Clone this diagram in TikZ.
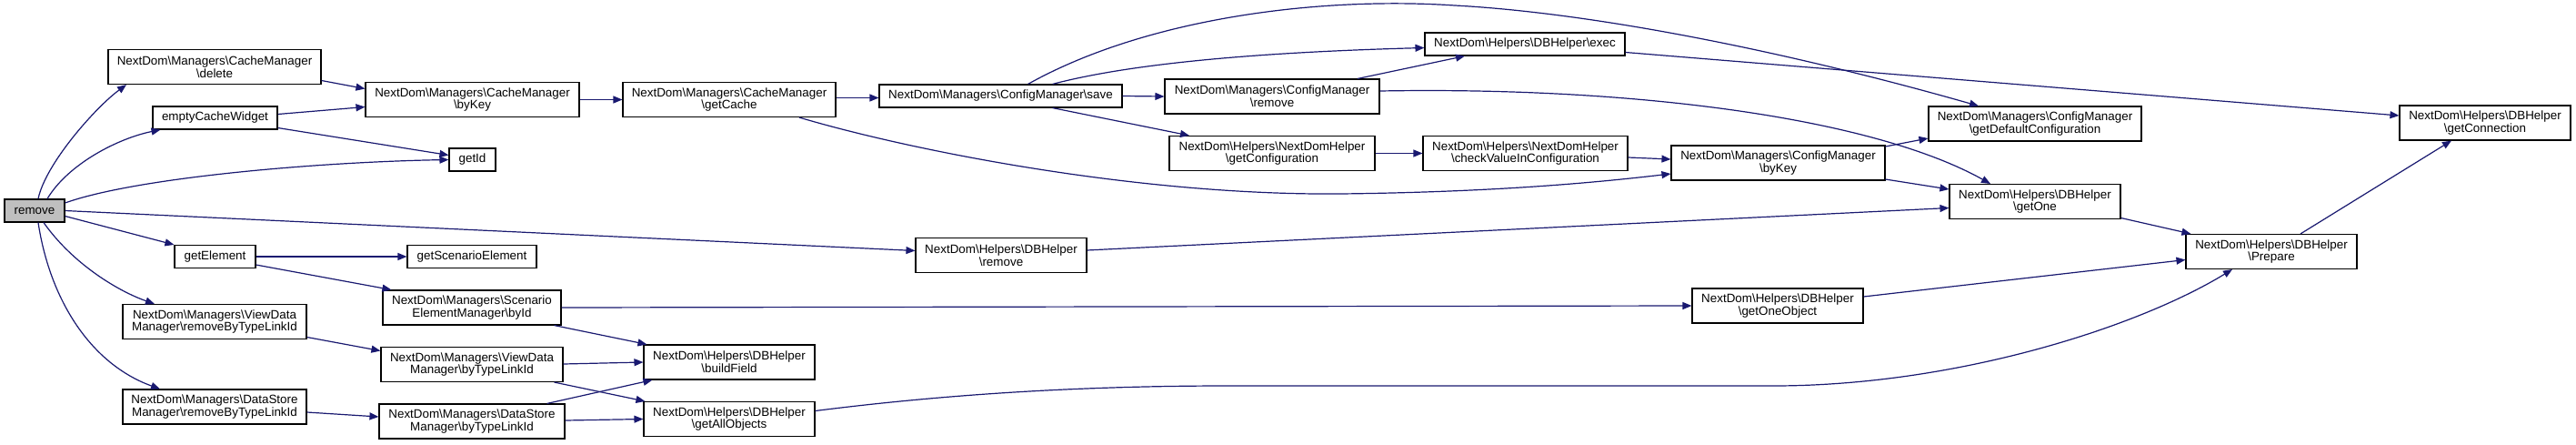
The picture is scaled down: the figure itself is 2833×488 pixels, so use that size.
\documentclass[tikz,border=0pt]{standalone}
\usepackage{fontspec}
\setmainfont{Liberation Sans}
\usetikzlibrary{arrows.meta}
\newcommand{\BkS}{\textbackslash}
\definecolor{edgecol}{HTML}{191970}
\definecolor{rootfill}{HTML}{BFBFBF}
\tikzset{
  box/.style={draw=black, line width=1.1pt, fill=white, inner sep=0pt, align=center,
    font=\fontsize{13.4pt}{13.6pt}\selectfont},
  one/.style={box, minimum height=25pt},
  two/.style={box, minimum height=38pt},
  edge/.style={draw=edgecol, line width=1.2pt, -{Triangle[length=10pt,width=8pt]}},
}
\begin{document}
\begin{tikzpicture}[x=1pt,y=-1pt]
\fill[white] (0,0) rectangle (2833,488);
\useasboundingbox (0,0) rectangle (2833,488);
% nodes
\node[one, fill=rootfill, minimum width=66pt] (remove) at (38,231.5) {remove};
\node[two, minimum width=234pt] (delete) at (236,73.5) {NextDom\BkS Managers\BkS CacheManager\\\BkS delete};
\node[two, minimum width=235pt] (cbyKey) at (519.5,109.5) {NextDom\BkS Managers\BkS CacheManager\\\BkS byKey};
\node[two, minimum width=234pt] (getCache) at (802,109.5) {NextDom\BkS Managers\BkS CacheManager\\\BkS getCache};
\node[one, minimum width=137pt] (ecw) at (236.5,129.5) {emptyCacheWidget};
\node[one, minimum width=51pt] (getId) at (519.5,175.5) {getId};
\node[one, minimum width=89pt] (getElement) at (236.5,282) {getElement};
\node[one, minimum width=142pt] (getScen) at (519,282) {getScenarioElement};
\node[two, minimum width=196pt] (sebyId) at (519,338) {NextDom\BkS Managers\BkS Scenario\\ElementManager\BkS byId};
\node[two, minimum width=202pt] (vdrm) at (236,353.5) {NextDom\BkS Managers\BkS ViewData\\Manager\BkS removeByTypeLinkId};
\node[two, minimum width=200pt] (vdby) at (519,400.5) {NextDom\BkS Managers\BkS ViewData\\Manager\BkS byTypeLinkId};
\node[two, minimum width=188pt] (buildField) at (802,398) {NextDom\BkS Helpers\BkS DBHelper\\\BkS buildField};
\node[two, minimum width=202pt] (dsrm) at (236,447) {NextDom\BkS Managers\BkS DataStore\\Manager\BkS removeByTypeLinkId};
\node[two, minimum width=204pt] (dsby) at (519,463) {NextDom\BkS Managers\BkS DataStore\\Manager\BkS byTypeLinkId};
\node[two, minimum width=188pt] (getAll) at (802,460.5) {NextDom\BkS Helpers\BkS DBHelper\\\BkS getAllObjects};
\node[one, minimum width=267pt] (save) at (1100.5,105.5) {NextDom\BkS Managers\BkS ConfigManager\BkS save};
\node[two, minimum width=236pt] (cmremove) at (1399,106) {NextDom\BkS Managers\BkS ConfigManager\\\BkS remove};
\node[one, minimum width=220pt] (exec) at (1677,48.5) {NextDom\BkS Helpers\BkS DBHelper\BkS exec};
\node[two, minimum width=226pt] (getConf) at (1399,168.5) {NextDom\BkS Helpers\BkS NextDomHelper\\\BkS getConfiguration};
\node[two, minimum width=225pt] (checkVal) at (1677.5,168.5) {NextDom\BkS Helpers\BkS NextDomHelper\\\BkS checkValueInConfiguration};
\node[two, minimum width=235pt] (cmbyKey) at (1955.5,179) {NextDom\BkS Managers\BkS ConfigManager\\\BkS byKey};
\node[two, minimum width=188pt] (dbremove) at (1101,280.5) {NextDom\BkS Helpers\BkS DBHelper\\\BkS remove};
\node[two, minimum width=188pt] (getOneObj) at (1955,336) {NextDom\BkS Helpers\BkS DBHelper\\\BkS getOneObject};
\node[two, minimum width=234pt] (getDefConf) at (2238,136) {NextDom\BkS Managers\BkS ConfigManager\\\BkS getDefaultConfiguration};
\node[two, minimum width=188pt] (getConn) at (2733,135) {NextDom\BkS Helpers\BkS DBHelper\\\BkS getConnection};
\node[two, minimum width=188pt] (getOne) at (2238,221.5) {NextDom\BkS Helpers\BkS DBHelper\\\BkS getOne};
\node[two, minimum width=188pt] (Prepare) at (2498,276.5) {NextDom\BkS Helpers\BkS DBHelper\\\BkS Prepare};
% edges
\draw[edge] ([xshift=4pt]remove.north) .. controls (50,180) and (105,118) .. ([xshift=-97pt]delete.south);
\draw[edge] ([xshift=14pt]remove.north) .. controls (75,180) and (130,152) .. ([xshift=-60pt]ecw.south);
\draw[edge] ([yshift=8.5pt]remove.east) .. controls (150,195) and (350,178) .. (getId.west);
\draw[edge] (remove.east) -- ([yshift=5pt]dbremove.west);
\draw[edge] ([yshift=-6pt]remove.east) -- (getElement.north west);
\draw[edge] ([xshift=10pt]remove.south) .. controls (80,290) and (130,320) .. ([xshift=-66pt]vdrm.north);
\draw[edge] ([xshift=4pt]remove.south) .. controls (55,330) and (100,400) .. ([xshift=-60pt]dsrm.north);
\draw[edge] ([yshift=-15pt]delete.east) -- ([yshift=12pt]cbyKey.west);
\draw[edge] ([yshift=4pt]ecw.east) -- ([yshift=-8pt]cbyKey.west);
\draw[edge] ([yshift=-11pt]ecw.east) -- ([yshift=5pt]getId.west);
\draw[edge] (cbyKey.east) -- (getCache.west);
\draw[edge] ([yshift=2pt]getCache.east) -- ([yshift=-2pt]save.west);
\draw[edge] ([xshift=77pt]getCache.south) .. controls (1000,165) and (1250,215) .. (1474,213) .. controls (1650,211) and (1760,200) .. ([yshift=-12pt]cmbyKey.west);
\draw[edge] ([xshift=57pt]save.north) .. controls (1250,68) and (1400,57) .. ([yshift=-4pt]exec.west);
\draw[edge] (save.east) -- (cmremove.west);
\draw[edge] ([xshift=57pt]save.south) -- ([xshift=-91pt]getConf.north);
\draw[edge] ([xshift=30pt]save.north) .. controls (1260,20) and (1450,-4) .. (1600,6) .. controls (1750,14) and (1960,55) .. ([xshift=-62pt]getDefConf.north);
\draw[edge] ([xshift=94pt]cmremove.north) -- ([xshift=-66pt]exec.south);
\draw[edge] ([yshift=6pt]cmremove.east) .. controls (1800,95) and (2060,130) .. ([xshift=-49pt]getOne.north);
\draw[edge] ([yshift=-9pt]exec.east) -- ([yshift=8pt]getConn.west);
\draw[edge] (getConf.east) -- (checkVal.west);
\draw[edge] ([yshift=-4.5pt]checkVal.east) -- ([yshift=4pt]cmbyKey.west);
\draw[edge] ([yshift=18pt]cmbyKey.east) -- ([yshift=-16pt]getDefConf.west);
\draw[edge] ([yshift=-18pt]cmbyKey.east) -- ([yshift=13.5pt]getOne.west);
\draw[edge] ([yshift=5.5pt]dbremove.east) -- ([yshift=-7pt]getOne.west);
\draw[edge] ([yshift=-18pt]getOne.east) -- ([xshift=6pt]Prepare.north west);
\draw[edge] ([xshift=32pt]Prepare.north) -- ([xshift=-37pt]getConn.south);
\draw[edge] (getElement.east) -- (getScen.west);
\draw[edge] ([yshift=-9pt]getElement.east) -- ([xshift=10pt]sebyId.north west);
\draw[edge] (sebyId.east) -- (getOneObj.west);
\draw[edge] ([xshift=-8pt]sebyId.south east) -- ([xshift=4pt]buildField.north west);
\draw[edge] ([yshift=10pt]getOneObj.east) -- ([yshift=-9pt]Prepare.west);
\draw[edge] ([yshift=-17pt]vdrm.east) -- ([yshift=15pt]vdby.west);
\draw[edge] ([yshift=0.5pt]vdby.east) -- (buildField.west);
\draw[edge] ([xshift=-10pt]vdby.south east) -- ([xshift=2pt]getAll.north west);
\draw[edge] ([yshift=-6pt]dsrm.east) -- ([yshift=5pt]dsby.west);
\draw[edge] ([xshift=-20pt]dsby.north east) -- ([xshift=10pt]buildField.south west);
\draw[edge] ([yshift=1pt]dsby.east) -- (getAll.west);
\draw[edge] ([yshift=9pt]getAll.east) .. controls (1050,432) and (1200,424) .. (1350,424) -- (1950,424) .. controls (2150,424) and (2350,360) .. ([xshift=-43pt]Prepare.south);
\end{tikzpicture}
\end{document}
